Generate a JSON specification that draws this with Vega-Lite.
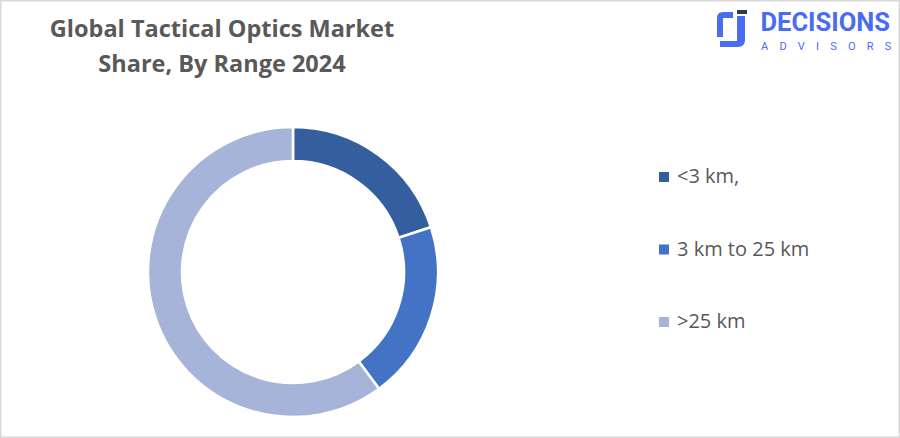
{
  "$schema": "https://vega.github.io/schema/vega-lite/v6.json",
  "width": 900,
  "height": 438,
  "autosize": {"type": "fit", "contains": "padding"},
  "padding": 0,
  "background": "white",
  "config": {"view": {"stroke": "#d9d9d9", "strokeWidth": 3}},
  "layer": [
    {
      "data": {"values": [
        {"range": "<3 km,", "share": 20.0, "idx": 1},
        {"range": "3 km to 25 km", "share": 19.9, "idx": 2},
        {"range": ">25 km", "share": 60.1, "idx": 3}
      ]},
      "mark": {"type": "arc", "outerRadius": 145, "innerRadius": 111, "stroke": "white", "strokeWidth": 2.5},
      "encoding": {
        "theta": {"field": "share", "type": "quantitative", "stack": true},
        "order": {"field": "idx", "type": "quantitative"},
        "x": {"value": 293},
        "y": {"value": 272},
        "color": {
          "field": "range",
          "type": "nominal",
          "sort": ["<3 km,", "3 km to 25 km", ">25 km"],
          "scale": {"domain": ["<3 km,", "3 km to 25 km", ">25 km"], "range": ["#355e9f", "#4472c4", "#a7b4d9"]},
          "legend": {
            "title": null,
            "orient": "none",
            "legendX": 654,
            "legendY": 167,
            "padding": 0,
            "symbolType": "square",
            "symbolSize": 100,
            "symbolStrokeWidth": 0,
            "labelFont": "Open Sans",
            "labelFontSize": 20,
            "labelColor": "#595959",
            "labelOffset": 3,
            "rowPadding": 52.5
          }
        }
      }
    },
    {
      "data": {"values": [{"t": "Global Tactical Optics Market\nShare, By Range 2024"}]},
      "mark": {"type": "text", "font": "Open Sans", "fontWeight": 700, "fontSize": 23.5, "color": "#595959", "align": "center", "baseline": "alphabetic", "lineBreak": "\n", "lineHeight": 35},
      "encoding": {"text": {"field": "t"}, "x": {"value": 222}, "y": {"value": 37}}
    },
    {
      "data": {"values": [{"t": "DECISIONS"}]},
      "mark": {"type": "text", "font": "Roboto", "fontWeight": 700, "fontSize": 25.5, "color": "#4a6cf0", "align": "right", "baseline": "alphabetic"},
      "encoding": {"text": {"field": "t"}, "x": {"value": 890}, "y": {"value": 31}}
    },
    {
      "data": {"values": [{"t": "A\u2002\u2002D\u2002\u2002V\u2002\u2002I\u2002\u2002S\u2002\u2002O\u2002\u2002R\u2002\u2002S"}]},
      "mark": {"type": "text", "font": "Roboto", "fontWeight": 400, "fontSize": 11, "color": "#4a6cf0", "align": "left", "baseline": "alphabetic"},
      "encoding": {"text": {"field": "t"}, "x": {"value": 761}, "y": {"value": 50}}
    },
    {
      "data": {"values": [{"part": "left"}, {"part": "right"}]},
      "mark": {"type": "point", "filled": true, "size": 1444, "strokeWidth": 0, "opacity": 1, "color": "#4a6cf0"},
      "encoding": {
        "x": {"value": 732},
        "y": {"value": 28},
        "shape": {
          "field": "part",
          "type": "nominal",
          "legend": null,
          "scale": {
            "domain": ["left", "right"],
            "range": [
              "M0.053,-0.842 L-0.474,-0.842 Q-0.789,-0.842 -0.789,-0.526 L-0.789,0.474 L-0.474,0.474 L-0.474,-0.526 L0.053,-0.526 Z",
              "M0.263,-0.632 L0.684,-0.632 L0.684,0.632 Q0.684,1 0.316,1 L-0.632,1 L-0.632,0.684 L0.263,0.684 Z"
            ]
          }
        }
      }
    },
    {
      "data": {"values": [{"part": "bar"}]},
      "mark": {"type": "point", "filled": true, "size": 1444, "strokeWidth": 0, "opacity": 1, "color": "#2f3b46", "shape": "M0.263,-0.947 L0.789,-0.947 L0.789,-0.737 L0.263,-0.737 Z"},
      "encoding": {"x": {"value": 732}, "y": {"value": 28}}
    }
  ]
}
